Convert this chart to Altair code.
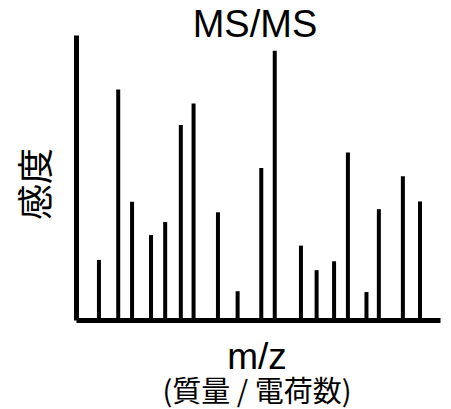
import altair as alt
import pandas as pd

# m/z positions (arbitrary units 0-100) and relative intensities (0-100)
mz = [6.3, 11.6, 15.4, 20.6, 24.5, 28.8, 32.3, 39.0, 44.4, 50.9,
      54.6, 61.8, 66.1, 70.9, 74.7, 79.8, 83.2, 89.8, 94.5]
intensity = [21.1, 80.9, 41.5, 29.8, 34.4, 68.4, 76.0, 37.8, 10.1, 53.3,
             94.5, 26.1, 17.5, 20.6, 58.8, 9.8, 38.9, 50.4, 41.6]

title_text = "MS/MS"
y_title = "感度"
x_title = "m/z"
x_sub = "(質量 / 電荷数)"

df = pd.DataFrame({"mz": mz, "intensity": intensity})

W, H = 364, 285

xs = alt.Scale(domain=[0, 100], nice=False, zero=False)
ys = alt.Scale(domain=[0, 100], nice=False)

peaks = alt.Chart(df).mark_rule(strokeWidth=4, color="black", strokeCap="butt").encode(
    x=alt.X("mz:Q", scale=xs,
            axis=alt.Axis(title=None, labels=False, ticks=False, grid=False,
                          domainColor="black", domainWidth=5)),
    y=alt.Y("intensity:Q", scale=ys,
            axis=alt.Axis(title=None, labels=False, ticks=False, grid=False,
                          domainColor="black", domainWidth=5)),
    y2=alt.datum(0),
)

def label(text, x, y, size, font, angle=0, baseline="alphabetic"):
    return alt.Chart(pd.DataFrame({"t": [text]})).mark_text(
        font=font, fontSize=size, color="black", align="center",
        baseline=baseline, angle=angle
    ).encode(text="t:N", x=alt.value(x), y=alt.value(y))

t1 = label(title_text, 179, 2, 38, "Liberation Sans")
t2 = label(x_title, 181, 334, 37, "Liberation Sans")
t3 = label(x_sub, 181, 367, 29, "Noto Sans CJK JP")
t4 = label(y_title, -38, 149, 36, "Noto Sans CJK JP", angle=270, baseline="middle")

chart = alt.layer(peaks, t1, t2, t3, t4).properties(
    width=W, height=H,
    autosize=alt.AutoSizeParams(type="none"),
    padding={"left": 68, "top": 27, "right": 3, "bottom": 89},
).configure(background="white").configure_view(stroke=None)

chart.save("out.html", embed_options={"renderer": "svg", "actions": False})
